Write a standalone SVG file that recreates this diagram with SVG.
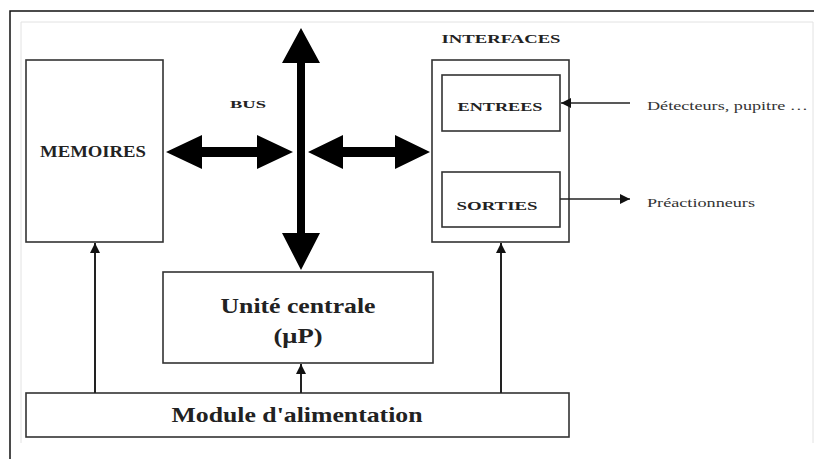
<svg xmlns="http://www.w3.org/2000/svg" width="814" height="459" viewBox="0 0 814 459">
<defs>
<style>
.box{fill:#fff;stroke:#333;stroke-width:1.6}
.lbl{font-family:'Liberation Serif','Tinos','Times New Roman','Nimbus Roman',serif;font-weight:700;fill:#222}
.note{font-family:'Liberation Serif','Tinos','Times New Roman','Nimbus Roman',serif;fill:#333;font-size:11.5px}
.thin{stroke:#222;stroke-width:2;fill:none}
.thin1{stroke:#222;stroke-width:1.3;fill:none}
</style>
<marker id="ah" viewBox="0 0 10 10" refX="10" refY="5" markerWidth="10" markerHeight="10" markerUnits="userSpaceOnUse" orient="auto">
<path d="M0,0 L10,5 L0,10 Z" fill="#111"/>
</marker>
</defs>
<rect x="0" y="0" width="814" height="459" fill="#fff"/>
<g id="frame">
<path d="M10,459 V11 H814" fill="none" stroke="#111" stroke-width="1.5"/>
<path d="M21,443 V22 H813 V443" fill="none" stroke="#e2e2e2" stroke-width="1"/>
</g>
<g id="memoires">
<rect class="box" x="26" y="60" width="137" height="182"/>
<text class="lbl" x="93" y="157" font-size="16" text-anchor="middle" textLength="106" lengthAdjust="spacingAndGlyphs">MEMOIRES</text>
</g>
<g id="bus-label">
<text class="lbl" x="248" y="108" font-size="11" text-anchor="middle" textLength="36" lengthAdjust="spacingAndGlyphs">BUS</text>
</g>
<g id="interfaces">
<text class="lbl" x="501" y="43" font-size="13" text-anchor="middle" textLength="119" lengthAdjust="spacingAndGlyphs">INTERFACES</text>
<rect class="box" x="432" y="60" width="137" height="182"/>
</g>
<g id="entrees">
<rect class="box" x="442" y="75" width="118" height="56"/>
<text class="lbl" x="500" y="111" font-size="13" text-anchor="middle" textLength="85" lengthAdjust="spacingAndGlyphs">ENTREES</text>
</g>
<g id="sorties">
<rect class="box" x="442" y="172" width="118" height="55"/>
<text class="lbl" x="497" y="210" font-size="13" text-anchor="middle" textLength="81" lengthAdjust="spacingAndGlyphs">SORTIES</text>
</g>
<g id="unite-centrale">
<rect class="box" x="163" y="272" width="270" height="91"/>
<text class="lbl" x="298" y="313" font-size="22" text-anchor="middle" textLength="155" lengthAdjust="spacingAndGlyphs">Unité centrale</text>
<text class="lbl" x="298" y="343" font-size="22" text-anchor="middle" textLength="49" lengthAdjust="spacingAndGlyphs">(μP)</text>
</g>
<g id="module">
<rect class="box" x="26" y="393" width="543" height="44"/>
<text class="lbl" x="297" y="422" font-size="22" text-anchor="middle" textLength="251" lengthAdjust="spacingAndGlyphs">Module d'alimentation</text>
</g>
<g id="ext-labels">
<text class="note" x="647" y="110" textLength="161" lengthAdjust="spacingAndGlyphs">Détecteurs, pupitre …</text>
<text class="note" x="647" y="207" textLength="108" lengthAdjust="spacingAndGlyphs">Préactionneurs</text>
</g>
<g id="connectors">
<path d="M301,28 L320,63 L305,63 L305,233 L320,233 L301,270 L282,233 L297,233 L297,63 L282,63 Z" fill="#000"/>
<path d="M166,152 L202,135 L202,147 L257,147 L257,135 L293,152 L257,169 L257,157 L202,157 L202,169 Z" fill="#000"/>
<path d="M308,152 L343,135 L343,147 L395,147 L395,135 L430,152 L395,169 L395,157 L343,157 L343,169 Z" fill="#000"/>
<line class="thin1" x1="630" y1="103" x2="561" y2="103" marker-end="url(#ah)"/>
<line class="thin1" x1="560" y1="199" x2="630" y2="199" marker-end="url(#ah)"/>
<line class="thin" x1="95" y1="393" x2="95" y2="243" marker-end="url(#ah)"/>
<line class="thin" x1="301" y1="393" x2="301" y2="364" marker-end="url(#ah)"/>
<line class="thin" x1="501" y1="393" x2="501" y2="243" marker-end="url(#ah)"/>
</g>
</svg>
